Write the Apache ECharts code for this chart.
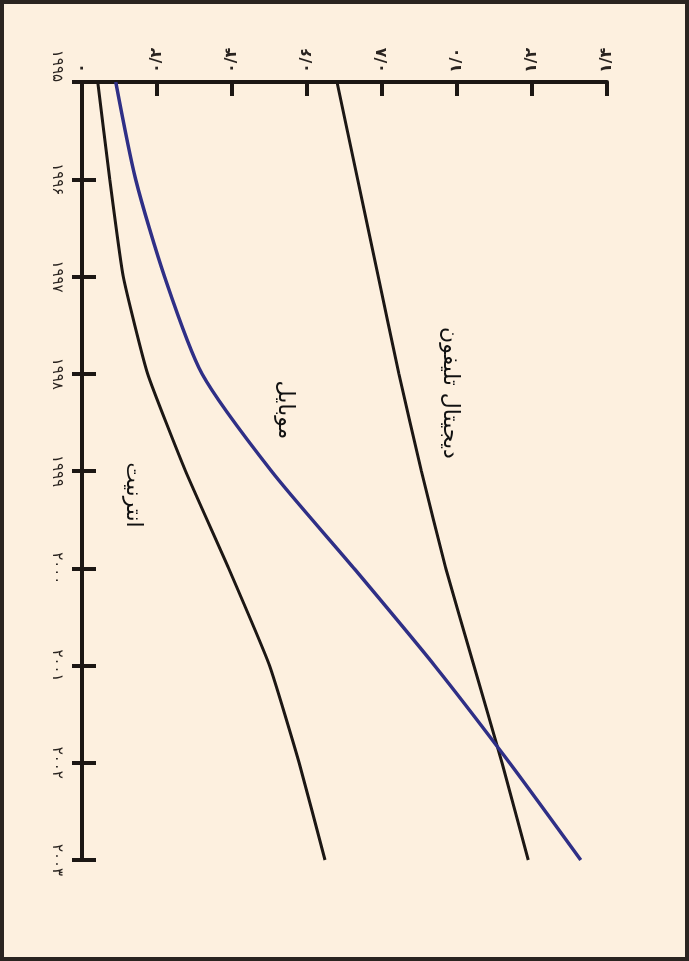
<!DOCTYPE html>
<html>
<head>
<meta charset="utf-8">
<script src="https://cdn.jsdelivr.net/npm/echarts@6/dist/echarts.min.js"></script>
<style>
  html, body { margin: 0; padding: 0; background: #fdf0df; }
  #chart { width: 689px; height: 961px; }
</style>
</head>
<body>
<div id="chart"></div>
<script>
// سال‌ها (محور عمودی)
let years = ['۱۹۹۵', '۱۹۹۶', '۱۹۹۷', '۱۹۹۸', '۱۹۹۹', '۲۰۰۰', '۲۰۰۱', '۲۰۰۲', '۲۰۰۳']
// برچسب‌های محور مقدار
let valueTicks = [0, 0.2, 0.4, 0.6, 0.8, 1.0, 1.2, 1.4]
let valueLabels = ['۰', '۰/۲', '۰/۴', '۰/۶', '۰/۸', '۱/۰', '۱/۲', '۱/۴']

let digitalPhone = [0.68, 0.735, 0.79, 0.845, 0.905, 0.97, 1.045, 1.12, 1.19]
let mobile = [0.09, 0.143, 0.22, 0.32, 0.505, 0.725, 0.94, 1.14, 1.33]
let internet = [0.042, 0.074, 0.11, 0.175, 0.276, 0.391, 0.50, 0.579, 0.648]

let seriesNames = ['دیجیتال تلیفون', 'موبایل', 'انترنیت']

let ink = '#1c1714'
let font = 'DejaVu Sans'
// جهت چپ به راست برای ارقام
let ltr = s => '\u202D' + s + '\u202C'

let chart = echarts.init(document.getElementById('chart'))

let option = {
  backgroundColor: '#fdf0df',
  animation: false,
  grid: {
    left: 82,
    right: 82,
    top: 82,
    bottom: 101
  },
  xAxis: {
    type: 'value',
    position: 'top',
    min: 0,
    max: 1.4,
    interval: 0.2,
    splitLine: { show: false },
    axisLine: { show: true, lineStyle: { color: ink, width: 4 } },
    axisTick: { show: true, inside: true, length: 14, lineStyle: { color: ink, width: 4 } },
    axisLabel: {
      rotate: -90,
      margin: 9,
      fontFamily: font,
      fontSize: 16,
      fontWeight: 'bold',
      color: '#2a2420',
      formatter: function (v) {
        let i = valueTicks.findIndex(t => Math.abs(t - v) < 1e-6)
        return i >= 0 ? ltr(valueLabels[i]) : ''
      }
    }
  },
  yAxis: [
    {
      type: 'category',
      data: years,
      inverse: true,
      boundaryGap: false,
      position: 'left',
      axisLine: { show: true, lineStyle: { color: ink, width: 4 } },
      axisTick: { show: true, length: 10, lineStyle: { color: ink, width: 4 } },
      axisLabel: {
        rotate: -90,
        margin: 18,
        fontFamily: font,
        fontSize: 15,
        color: '#2a2420',
        alignMinLabel: 'right',
        formatter: v => ltr(v)
      }
    },
    {
      // نیمه داخلی تیک‌ها
      type: 'category',
      data: years,
      inverse: true,
      boundaryGap: false,
      position: 'left',
      offset: 0,
      axisLine: { show: false },
      axisTick: { show: true, inside: true, length: 14, lineStyle: { color: ink, width: 4 } },
      axisLabel: { show: false }
    }
  ],
  series: [
    {
      name: seriesNames[0],
      type: 'line',
      data: digitalPhone,
      smooth: 0.15,
      symbol: 'none',
      lineStyle: { color: ink, width: 3 }
    },
    {
      name: seriesNames[1],
      type: 'line',
      data: mobile,
      smooth: 0.25,
      symbol: 'none',
      lineStyle: { color: '#2f2f86', width: 3.5 }
    },
    {
      name: seriesNames[2],
      type: 'line',
      data: internet,
      smooth: 0.15,
      symbol: 'none',
      lineStyle: { color: ink, width: 3 }
    }
  ],
  graphic: [
    {
      type: 'rect',
      shape: { x: 2, y: 2, width: 685, height: 957 },
      style: { fill: 'none', stroke: '#2a2420', lineWidth: 4 },
      z: 10
    },
    {
      type: 'text',
      x: 450, y: 393, rotation: -Math.PI / 2,
      style: { text: seriesNames[0], fontFamily: font, fontSize: 22, fill: '#111', align: 'center', verticalAlign: 'middle' }
    },
    {
      type: 'text',
      x: 285, y: 410, rotation: -Math.PI / 2,
      style: { text: seriesNames[1], fontFamily: font, fontSize: 22, fill: '#111', align: 'center', verticalAlign: 'middle' }
    },
    {
      type: 'text',
      x: 133, y: 495, rotation: -Math.PI / 2,
      style: { text: seriesNames[2], fontFamily: font, fontSize: 22, fill: '#111', align: 'center', verticalAlign: 'middle' }
    }
  ]
}

chart.setOption(option)
</script>
</body>
</html>
